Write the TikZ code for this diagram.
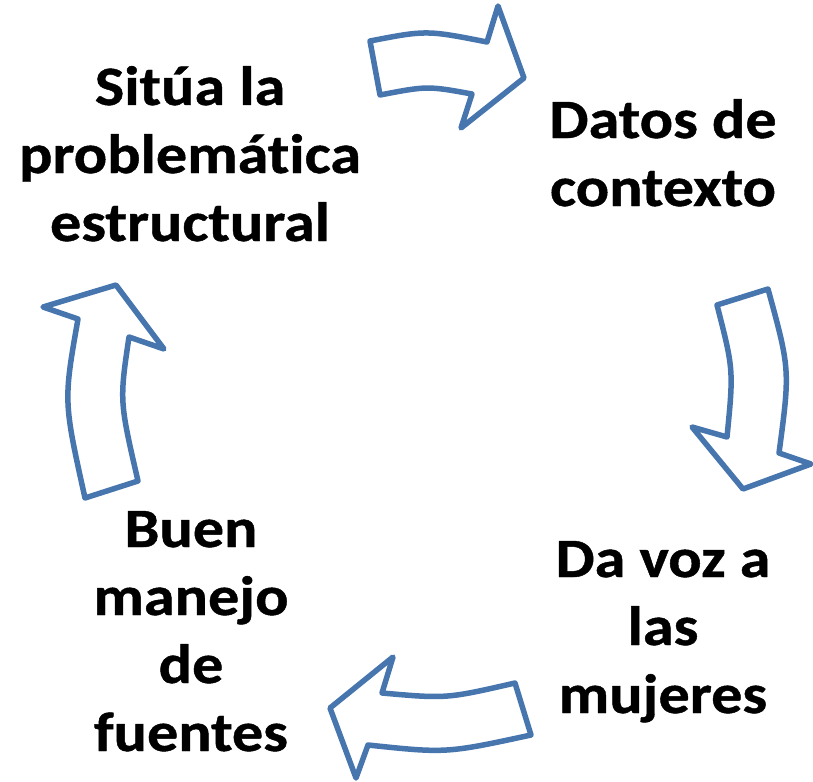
\documentclass[tikz,border=0pt]{standalone}
\usepackage{fontspec}
\setmainfont{Carlito}[FakeStretch=1.12,Ligatures=NoCommon,BoldFeatures={FakeBold=0.8}]
\definecolor{arrowblue}{RGB}{71,117,174}
\begin{document}
\begin{tikzpicture}[x=1pt,y=-1pt,
  cyclearrow/.style={draw=arrowblue,line width=5.5pt,line join=round,fill=white},
  lbl/.style={anchor=base,inner sep=0pt,font=\fontsize{55.5}{68}\selectfont\bfseries}]
\useasboundingbox (0,0) rectangle (813,781);
% top arrow (right)
\draw[cyclearrow] (370,41) .. controls (426.5,30.1) .. (487,42) -- (498,6) -- (524,78) -- (461,128) -- (472,94) .. controls (427.3,85.9) .. (380,95) -- cycle;
% right arrow (down)
\draw[cyclearrow] (717,305) -- (768,289) .. controls (790.1,369.7) .. (779,453) -- (811,464) -- (743,489) -- (692,427) -- (727,437) .. controls (733.6,369.7) .. (717,305) -- cycle;
% bottom arrow (left)
\draw[cyclearrow] (515,683) -- (531,735) .. controls (446.2,753.3) .. (368,745) -- (356,778) -- (330,708) -- (393,657) -- (382,693) .. controls (446.5,698.7) .. (515,683) -- cycle;
% left arrow (up)
\draw[cyclearrow] (85,498) -- (138,481) .. controls (119.5,401) .. (129,337) -- (164,349) -- (116,285) -- (43,307) -- (78,319) .. controls (63.5,401.2) .. (85,498) -- cycle;
% labels
\node[lbl] (a1) at (190,105) {Sitúa la};
\node[lbl] (a2) at (190,173) {problemát\kern0pt ica};
\node[lbl] (a3) at (190,241) {estructural};
\node[lbl] (b1) at (663,138) {Datos de};
\node[lbl] (b2) at (663,206) {contexto};
\node[lbl] (c1) at (663,577) {Da voz a};
\node[lbl] (c2) at (663,645) {las};
\node[lbl] (c3) at (663,713) {mujeres};
\node[lbl] (d1) at (191,547) {Buen};
\node[lbl] (d2) at (191,615) {manejo};
\node[lbl] (d3) at (191,683) {de};
\node[lbl] (d4) at (191,751) {fuentes};
\end{tikzpicture}
\end{document}
